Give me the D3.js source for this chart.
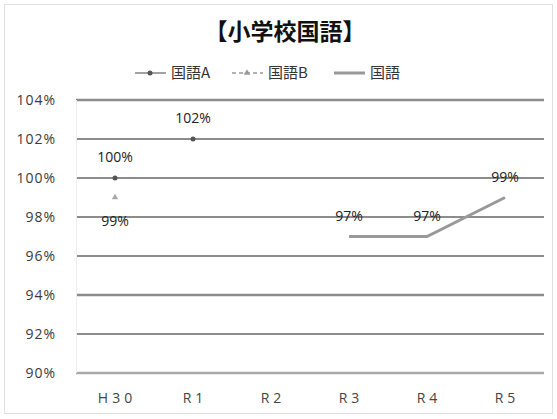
<!DOCTYPE html>
<html><head><meta charset="utf-8">
<script src="https://cdn.jsdelivr.net/npm/d3@7"></script>
<style>body{margin:0;background:#fff;font-family:"Noto Sans CJK JP","Noto Sans",sans-serif;}</style>
</head><body>
<svg id="c" width="557" height="419"></svg>
<script>
const categories = ["H30","R1","R2","R3","R4","R5"];
const seriesA = [100, 102, null, null, null, null];
const seriesB = [99, null, null, null, null, null];
const seriesK = [null, null, null, 97, 97, 99];
const yTicks = [90, 92, 94, 96, 98, 100, 102, 104];

const svg = d3.select("#c");
svg.append("rect").attr("x",4.5).attr("y",4.5).attr("width",548).attr("height",409)
  .attr("fill","#fff").attr("stroke","#e0e0e0");

const x = d3.scaleBand().domain(categories).range([76, 544]);
const y = d3.scaleLinear().domain([90, 104]).range([373, 100]);
const cx = d => x(d) + x.bandwidth()/2;
const latin = "'Open Sans','DejaVu Sans',sans-serif";

svg.append("text").attr("x",285).attr("y",40).attr("text-anchor","middle")
  .attr("font-size",23).attr("font-weight","bold").attr("fill","#111").text("【小学校国語】");

// grid
const g = svg.append("g");
yTicks.forEach(t => {
  g.append("line").attr("x1",76).attr("x2",544).attr("y1",y(t)).attr("y2",y(t))
    .attr("stroke", t===90 ? "#a8a8a8" : "#8c8c8c")
    .attr("stroke-width", (t===104||t===94||t===90) ? 2.5 : 1.8);
});
g.append("line").attr("x1",76.5).attr("x2",76.5).attr("y1",100).attr("y2",373).attr("stroke","#eee");

const yAxis = d3.axisLeft(y).tickValues(yTicks).tickFormat(d => d + "%").tickSize(0).tickPadding(0);
const ya = svg.append("g").attr("transform","translate(56,0)").call(yAxis);
ya.select(".domain").remove();
ya.selectAll("text").attr("font-size",14).attr("fill","#3a3a3a").attr("letter-spacing","1px").attr("font-family",latin);

const xAxis = d3.axisBottom(x).tickSize(0).tickPadding(0);
const xa = svg.append("g").attr("transform","translate(2,393)").call(xAxis);
xa.select(".domain").remove();
xa.selectAll("text").attr("font-size",14).attr("fill","#444").attr("letter-spacing","4px").attr("font-family",latin);

const line = d3.line().defined(d => d.v != null).x(d => cx(d.c)).y(d => y(d.v));
const mk = arr => categories.map((c,i) => ({c, v: arr[i]}));

// 国語
svg.append("path").datum(mk(seriesK)).attr("d", line).attr("fill","none")
  .attr("stroke","#999").attr("stroke-width",3);
// 国語A (markers)
mk(seriesA).filter(d=>d.v!=null).forEach(d=>{
  svg.append("circle").attr("cx",cx(d.c)).attr("cy",y(d.v)).attr("r",2.5).attr("fill","#555");
});
// 国語B
mk(seriesB).filter(d=>d.v!=null).forEach(d=>{
  svg.append("path").attr("d", d3.symbol(d3.symbolTriangle, 18)())
    .attr("transform",`translate(${cx(d.c)},${y(d.v)})`).attr("fill","#aaa");
});

// labels
const lbl = (c, v, dy) => svg.append("text").attr("x", cx(c)).attr("y", y(v)+dy)
  .attr("text-anchor","middle").attr("font-size",14).attr("fill","#222")
  .attr("font-family",latin).text(v + "%");
mk(seriesA).filter(d=>d.v!=null).forEach(d=>lbl(d.c,d.v,-16));
mk(seriesB).filter(d=>d.v!=null).forEach(d=>lbl(d.c,d.v,28));
mk(seriesK).filter(d=>d.v!=null).forEach(d=>lbl(d.c,d.v,-16));

// legend
const lg = svg.append("g").attr("font-size",15).attr("fill","#333");
const items = [
  {name:"国語A", x:135, type:"A"},
  {name:"国語B", x:232, type:"B"},
  {name:"国語", x:334, type:"K"}
];
items.forEach(it => {
  const ly = 73;
  if (it.type==="A") {
    lg.append("line").attr("x1",it.x).attr("x2",it.x+31).attr("y1",ly).attr("y2",ly).attr("stroke","#444").attr("stroke-width",1);
    lg.append("circle").attr("cx",it.x+15).attr("cy",ly).attr("r",2.5).attr("fill","#555");
  } else if (it.type==="B") {
    lg.append("line").attr("x1",it.x).attr("x2",it.x+31).attr("y1",ly).attr("y2",ly).attr("stroke","#999").attr("stroke-width",1.5).attr("stroke-dasharray","4,3");
    lg.append("path").attr("d", d3.symbol(d3.symbolTriangle, 18)()).attr("transform",`translate(${it.x+15},${ly})`).attr("fill","#999");
  } else {
    lg.append("line").attr("x1",it.x).attr("x2",it.x+31).attr("y1",ly).attr("y2",ly).attr("stroke","#999").attr("stroke-width",3);
  }
  lg.append("text").attr("x",it.x+36).attr("y",ly+5).text(it.name);
});
</script>
</body></html>
